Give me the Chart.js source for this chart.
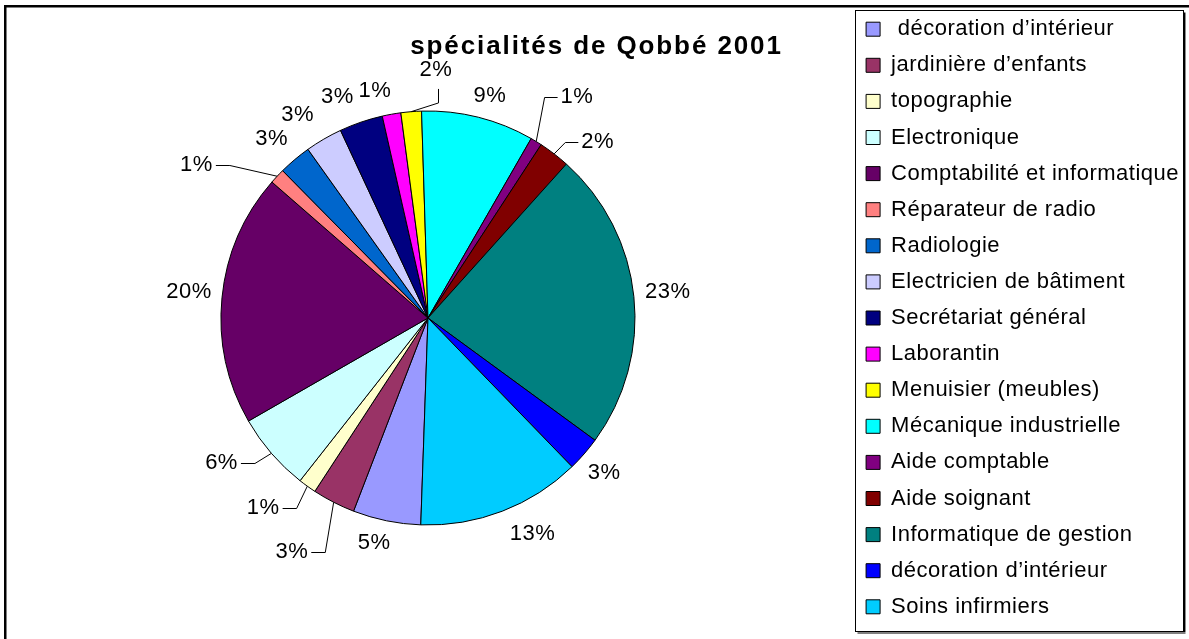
<!DOCTYPE html>
<html>
<head>
<meta charset="utf-8">
<script src="https://cdn.jsdelivr.net/npm/chart.js@4.4.1/dist/chart.umd.min.js"></script>
<style>
html,body{margin:0;padding:0;background:#fff;overflow:hidden}
#wrap{width:1189px;height:639px;position:relative;background:#fff}
canvas{display:block}
</style>
</head>
<body>
<div id="wrap"><canvas id="c" width="1189" height="639"></canvas></div>
<script>
// ---- data ----
const chartTitle = 'spécialités de Qobbé 2001';
const categories = [
  ' décoration d’intérieur', 'jardinière d’enfants', 'topographie', 'Electronique',
  'Comptabilité et informatique', 'Réparateur de radio', 'Radiologie',
  'Electricien de bâtiment', 'Secrétariat général', 'Laborantin',
  'Menuisier (meubles)', 'Mécanique industrielle', 'Aide comptable',
  'Aide soignant', 'Informatique de gestion', 'décoration d’intérieur',
  'Soins infirmiers'
];
const shares = [5.3, 3.35, 1.4, 6.1, 19.7, 1.2, 2.55, 2.9, 3.4, 1.45, 1.6, 8.8, 0.9, 2.45, 23.4, 2.7, 12.8];
const sliceColors = [
  '#9999FF', '#993366', '#FFFFCC', '#CCFFFF', '#660066', '#FF8080', '#0066CC',
  '#CCCCFF', '#000080', '#FF00FF', '#FFFF00', '#00FFFF', '#800080', '#800000',
  '#008080', '#0000FF', '#00CCFF'
];

// ---- label layout (relative to each slice: angular shift in degrees, distance in radii) ----
const labelLayout = [
  {shift: 1.9, dist: 1.117},
  {shift: -3.4, dist: 1.234, callout: 'left'},
  {shift: -1.0, dist: 1.116, callout: 'left'},
  {shift: 0.8, dist: 1.092, callout: 'left'},
  {shift: 0.6, dist: 1.161},
  {shift: -5.5, dist: 1.21, callout: 'left'},
  {shift: -1.1, dist: 1.148},
  {shift: -2.5, dist: 1.165},
  {shift: -3.4, dist: 1.153},
  {shift: -3.0, dist: 1.125},
  {shift: 7.3, dist: 1.04, callout: 'up'},
  {shift: 1.5, dist: 1.113},
  {shift: -3.7, dist: 1.207, callout: 'right'},
  {shift: 0.35, dist: 1.08, callout: 'right'},
  {shift: -0.2, dist: 1.165},
  {shift: 0.3, dist: 1.134},
  {shift: -4.8, dist: 1.159}
];

const FONT = "'Liberation Sans', Arial, Helvetica, sans-serif";
const LS = '0.5px';
const TITLE_LS = '1.9px';
const TEXT_SIZE = 22;

Chart.defaults.font.family = FONT;
Chart.defaults.color = '#000';

const framePlugin = {
  id: 'excelFrame',
  beforeLayout(chart) { chart.ctx.letterSpacing = LS; },
  beforeDraw(chart) {
    const ctx = chart.ctx;
    ctx.letterSpacing = LS;
    const tb = chart.titleBlock;
    if (tb && !tb._lsWrapped) {
      const orig = tb.draw;
      tb.draw = function (area) {
        const c = this.ctx;
        c.save();
        c.letterSpacing = TITLE_LS;
        orig.call(this, area);
        c.restore();
      };
      tb._lsWrapped = true;
    }
    ctx.save();
    // outer chart border
    ctx.strokeStyle = '#000';
    ctx.lineWidth = 2.5;
    ctx.strokeRect(5.25, 6.25, chart.width + 20, chart.height + 20);
    // legend frame
    const lg = chart.legend;
    const l = Math.round(lg.left + 3) + 0.5;
    const t = Math.round(lg.top + 10) + 0.5;
    const r = Math.round(lg.right - 6) + 0.5;
    const b = Math.round(lg.bottom - 5) + 0.5;
    ctx.fillStyle = '#fff';
    ctx.fillRect(l, t, r - l, b - t);
    ctx.lineWidth = 1;
    ctx.strokeStyle = '#000';
    ctx.strokeRect(l, t, r - l, b - t);
    ctx.strokeStyle = '#808080';
    ctx.lineWidth = 2;
    ctx.beginPath();
    ctx.moveTo(l + 2, b + 1.5);
    ctx.lineTo(r + 2, b + 1.5);
    ctx.stroke();
    ctx.strokeStyle = '#000';
    ctx.lineWidth = 1.5;
    ctx.beginPath();
    ctx.moveTo(r + 1.2, t + 2);
    ctx.lineTo(r + 1.2, b + 0.5);
    ctx.stroke();
    ctx.restore();
  },
  afterDatasetsDraw(chart) {
    const ctx = chart.ctx;
    const meta = chart.getDatasetMeta(0);
    const data = chart.data.datasets[0].data;
    const total = data.reduce((a, v) => a + v, 0);
    ctx.save();
    ctx.letterSpacing = LS;
    ctx.font = TEXT_SIZE + 'px ' + FONT;
    ctx.fillStyle = '#000';
    ctx.strokeStyle = '#000';
    ctx.lineWidth = 1;
    ctx.textBaseline = 'middle';
    ctx.textAlign = 'center';
    meta.data.forEach((arc, i) => {
      const p = arc.getProps(['x', 'y', 'startAngle', 'endAngle', 'outerRadius'], true);
      const mid = (p.startAngle + p.endAngle) / 2;
      const lay = labelLayout[i];
      const text = Math.round(data[i] / total * 100) + '%';
      const w = ctx.measureText(text).width;
      const a = mid + lay.shift * Math.PI / 180;
      const px = p.x + Math.cos(a) * p.outerRadius * lay.dist;
      const py = p.y + Math.sin(a) * p.outerRadius * lay.dist;
      if (!lay.callout) {
        ctx.fillText(text, px, py);
        return;
      }
      const sx = p.x + Math.cos(mid) * p.outerRadius;
      const sy = p.y + Math.sin(mid) * p.outerRadius;
      let ex = px, ey = Math.round(py) + 0.5, tx, ty;
      let bx = px, by = ey;
      if (lay.callout === 'left') {
        ex = px - 14; tx = ex - 3 - w / 2; ty = ey - 1;
      } else if (lay.callout === 'right') {
        ex = px + 13; tx = ex + 3 + w / 2; ty = ey - 1;
      } else {
        bx = Math.round(px) + 0.5; by = py; ex = bx; ey = py - 14; tx = px - 2; ty = ey - 19;
      }
      ctx.beginPath();
      ctx.moveTo(sx, sy);
      ctx.lineTo(bx, by);
      ctx.lineTo(ex, ey);
      ctx.stroke();
      ctx.fillText(text, tx, ty);
    });
    ctx.restore();
  }
};

new Chart(document.getElementById('c'), {
  type: 'pie',
  data: {
    labels: categories,
    datasets: [{
      data: shares,
      backgroundColor: sliceColors,
      borderColor: '#000',
      borderWidth: 1,
      radius: 207,
      hoverOffset: 0
    }]
  },
  options: {
    responsive: false,
    devicePixelRatio: 1,
    animation: false,
    rotation: 182,
    layout: {padding: {left: 4, right: 0, top: 0, bottom: 3}},
    plugins: {
      title: {
        display: true,
        text: chartTitle,
        color: '#000',
        font: {size: 26, weight: 'bold', family: FONT, lineHeight: 1.2},
        padding: {top: 31.5, bottom: -62.7}
      },
      legend: {
        position: 'right',
        align: 'center',
        labels: {
          boxWidth: 14,
          boxHeight: 14,
          padding: 14.1,
          color: '#000',
          font: {size: TEXT_SIZE, family: FONT}
        }
      },
      tooltip: {enabled: false}
    },
    events: []
  },
  plugins: [framePlugin]
});
</script>
</body>
</html>
